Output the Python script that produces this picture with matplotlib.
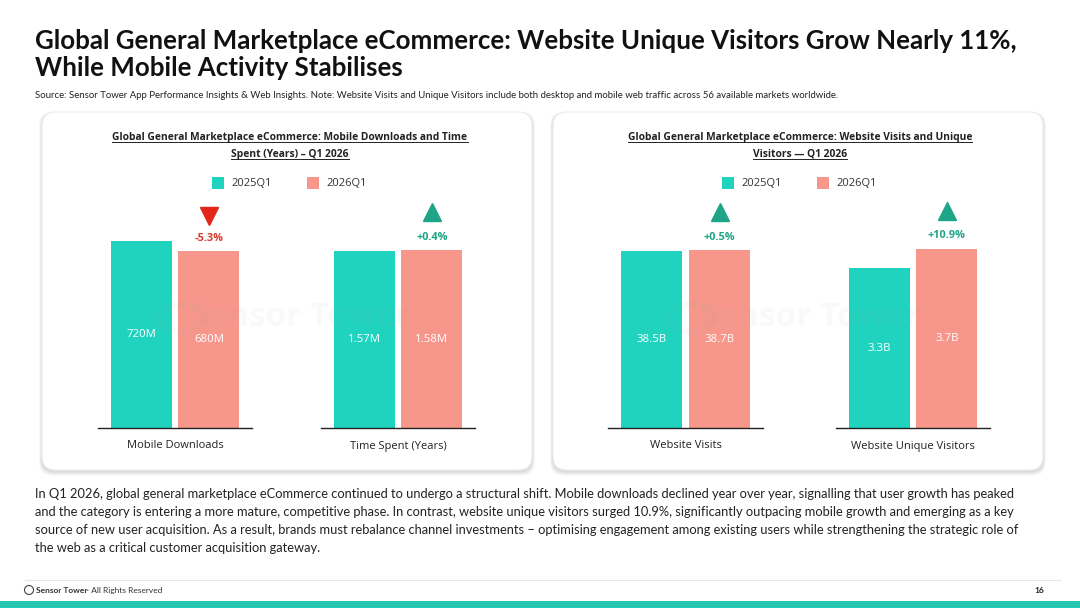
import matplotlib
matplotlib.use('Agg')
import matplotlib.pyplot as plt
from matplotlib.patches import FancyBboxPatch, Rectangle, Circle
from matplotlib import transforms

# data
metrics = ['Mobile Downloads', 'Time Spent (Years)', 'Website Visits', 'Website Unique Visitors']
q2025 = [720, 1.57, 38.5, 3.3]
q2026 = [680, 1.58, 38.7, 3.7]
labels_2025 = ['720M', '1.57M', '38.5B', '3.3B']
labels_2026 = ['680M', '1.58M', '38.7B', '3.7B']
changes = ['-5.3%', '+0.4%', '+0.5%', '+10.9%']
series = ['2025Q1', '2026Q1']

panel_titles = [
    ['Global General Marketplace eCommerce: Mobile Downloads and Time', 'Spent (Years) \u2013 Q1 2026'],
    ['Global General Marketplace eCommerce: Website Visits and Unique', 'Visitors \u2014 Q1 2026'],
]

title = ['Global General Marketplace eCommerce: Website Unique Visitors Grow Nearly 11%,',
         'While Mobile Activity Stabilises']
source = ('Source: Sensor Tower App Performance Insights & Web Insights. Note: Website Visits and Unique Visitors '
          'include both desktop and mobile web traffic across 56 available markets worldwide.')
body = [
    'In Q1 2026, global general marketplace eCommerce continued to undergo a structural shift. Mobile downloads declined year over year, signalling that user growth has peaked',
    'and the category is entering a more mature, competitive phase. In contrast, website unique visitors surged 10.9%, significantly outpacing mobile growth and emerging as a key',
    'source of new user acquisition. As a result, brands must rebalance channel investments \u2013 optimising engagement among existing users while strengthening the strategic role of',
    'the web as a critical customer acquisition gateway.',
]

# style
TEAL = '#20D3BF'
SALMON = '#F7978B'
UP = '#1EA486'
DOWN = '#E2261C'
DOWN_TXT = '#D63A2E'
NARROW = ['Lato', 'DejaVu Sans']
SANS = ['Open Sans', 'Noto Sans', 'DejaVu Sans']

W, H = 1080, 608
fig = plt.figure(figsize=(W / 100, H / 100), dpi=100)
fig.patch.set_facecolor('white')

bg = fig.add_axes([0, 0, 1, 1], zorder=-5)
bg.set_xlim(0, W)
bg.set_ylim(H, 0)
bg.axis('off')

# header
bg.text(35, 49, title[0], fontsize=18.6, fontweight='bold', family=NARROW, color='#111111')
bg.text(35, 76, title[1], fontsize=18.6, fontweight='bold', family=NARROW, color='#111111')
bg.text(35, 98, source, fontsize=6.9, family=NARROW, color='#222222')

# panel boxes with soft shadow
panels = [(42, 112, 490, 358), (553, 112, 490, 358)]
for (x0, y0, w, h) in panels:
    for i in range(6, 0, -1):
        bg.add_patch(FancyBboxPatch((x0 - i * 0.5, y0 - i * 0.3 + 1.5), w + i, h + i,
                                    boxstyle='round,pad=0,rounding_size=14',
                                    fc='#000000', ec='none', alpha=0.025))
    bg.add_patch(FancyBboxPatch((x0, y0), w, h, boxstyle='round,pad=0,rounding_size=14',
                                fc='white', ec='#EDEDED', lw=0.8))

# panel titles (underlined) and legends
centers = [290, 800]
title_texts = []
for p, cx in enumerate(centers):
    for j, line in enumerate(panel_titles[p]):
        t = bg.text(cx, 140 + j * 17, line, fontsize=7.4, fontweight='bold', family=SANS,
                    ha='center', va='baseline', color='#222222')
        title_texts.append(t)
    lx = cx - 78
    for k, (s, c) in enumerate(zip(series, [TEAL, SALMON])):
        bx = lx + k * 95
        bg.add_patch(Rectangle((bx, 177), 12, 12, fc=c, ec='none'))
        bg.text(bx + 19, 183.5, s, fontsize=8, family=SANS, va='center', color='#333333')

# bar groups: one axes per metric
bases = [(98, 252), (321, 475), (608, 763), (836, 990)]
tallest_px = [187, 178, 178, 179]
y_base, y_top = 428, 200
for i, (xa, xb) in enumerate(bases):
    ax = fig.add_axes([xa / W, 1 - y_base / H, (xb - xa) / W, (y_base - y_top) / H])
    ax.patch.set_alpha(0)
    vmax = max(q2025[i], q2026[i])
    ax.set_xlim(-1, 1)
    ax.set_ylim(0, vmax * (y_base - y_top) / tallest_px[i])
    ax.bar([-0.435, 0.44], [q2025[i], q2026[i]], width=0.79, color=[TEAL, SALMON], zorder=2)
    for xpos, v, lab in zip([-0.435, 0.44], [q2025[i], q2026[i]], [labels_2025[i], labels_2026[i]]):
        ax.text(xpos, v / 2, lab, ha='center', va='center', color='white', fontsize=8.2, family=SANS, zorder=3)
    for s in ['top', 'right', 'left']:
        ax.spines[s].set_visible(False)
    ax.spines['bottom'].set_color('#222222')
    ax.spines['bottom'].set_linewidth(1.0)
    ax.set_yticks([])
    ax.set_xticks([0], [metrics[i]])
    ax.tick_params(axis='x', length=0, pad=9, labelsize=8, labelcolor='#222222')
    for lb in ax.get_xticklabels():
        lb.set_family(SANS)
    up = changes[i].startswith('+')
    v2 = q2026[i]
    txt_tr = transforms.offset_copy(ax.transData, fig=fig, y=13, units='dots')
    ax.text(0.44, v2, changes[i], transform=txt_tr, ha='center', va='center', fontsize=7.8,
            fontweight='bold', family=SANS, color=UP if up else DOWN_TXT, clip_on=False)
    tri_tr = transforms.offset_copy(ax.transData, fig=fig, y=38 if up else 35, units='dots')
    ax.plot([0.44], [v2], marker='^' if up else 'v', markersize=13, color=UP if up else DOWN,
            transform=tri_tr, clip_on=False, zorder=4)

# watermark
for cx in [300, 810]:
    fig.text(cx / W, 1 - 318 / H, 'Sensor Tower', fontsize=24, fontweight='bold', family=SANS,
             ha='center', va='center', color='#999999', alpha=0.05)
    fig.patches.append(Circle(((cx - 118) / W, 1 - 318 / H), 0.022, transform=fig.transFigure,
                              fill=False, ec='#999999', lw=5, alpha=0.045))

# body text
for j, line in enumerate(body):
    bg.text(35, 498 + j * 18, line, fontsize=9.3, family=NARROW, color='#222222')

# footer
bg.plot([25, 1060], [580, 580], color='#E6E6E6', lw=0.8)
bg.add_patch(Circle((29, 590), 4.5, fill=False, ec='#444444', lw=0.8))
bg.text(36, 593, 'Sensor Tower', fontsize=6, fontweight='bold', family=NARROW, color='#333333')
bg.text(86, 593, '- All Rights Reserved', fontsize=6, family=NARROW, color='#333333')
bg.text(1044, 593, '16', fontsize=6, fontweight='bold', family=NARROW, color='#222222', ha='right')
bg.add_patch(Rectangle((0, 601), W, 7, fc='#26C7B2', ec='none'))

# underline panel titles
fig.canvas.draw()
r = fig.canvas.get_renderer()
inv = bg.transData.inverted()
for t in title_texts:
    bb = t.get_window_extent(renderer=r)
    (x0, _), (x1, _) = inv.transform([(bb.x0, bb.y0), (bb.x1, bb.y1)])
    _, yb = t.get_position()
    bg.plot([x0, x1], [yb + 2.2, yb + 2.2], color='#222222', lw=0.7)

fig.savefig('out.png', dpi=100, facecolor='white')
